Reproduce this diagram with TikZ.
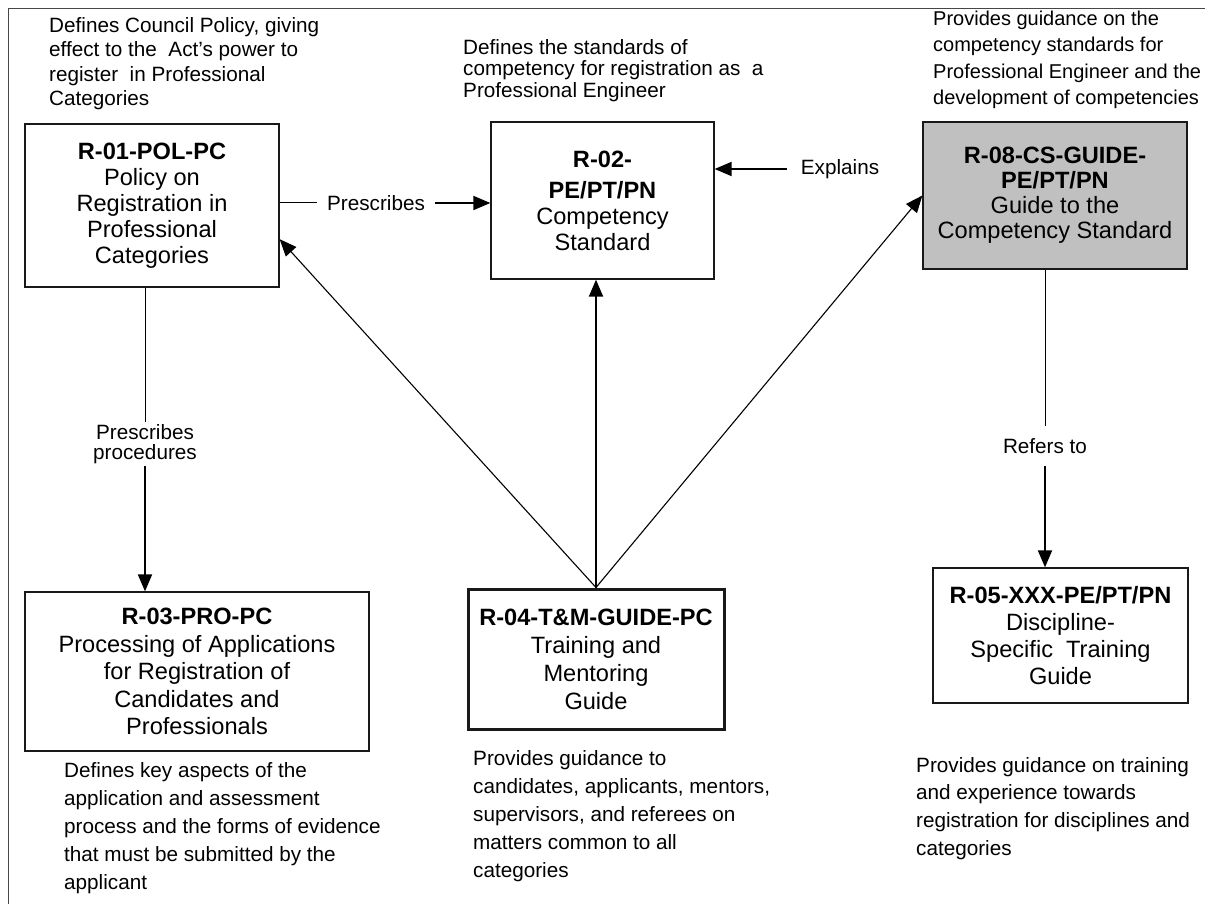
\documentclass[tikz,border=0pt]{standalone}
\usepackage{fontspec}
\setmainfont{Liberation Sans}
\usetikzlibrary{arrows.meta,calc}
\definecolor{boxgray}{RGB}{192,192,192}
\definecolor{framegray}{RGB}{70,70,70}
\begin{document}
\begin{tikzpicture}[x=1pt,y=-1pt,
  docbox/.style={draw=black!90,line width=1.3pt,align=center,inner sep=0pt},
  boxfont/.style={font=\fontsize{23.6}{#1}\selectfont},
  desc/.style={align=left,inner sep=0pt,anchor=north west},
  lbl/.style={fill=white,inner xsep=10pt,inner ysep=3pt,align=center,font=\fontsize{20.7}{20.5}\selectfont},
  arr/.style={-{Triangle[length=17pt,width=14pt]},line width=1.9pt},
  diag/.style={-{Triangle[length=17pt,width=14pt]},line width=1.1pt},
  thinln/.style={line width=1pt},
]
\useasboundingbox (0,0) rectangle (1205,904);
% frame
\draw[framegray,line width=1.5pt] (8.5,904) -- (8.5,8.5) -- (1205,8.5);

% boxes
\node[docbox,boxfont=26,minimum width=254pt,minimum height=163pt] (b1) at (152,205.5)
  {\textbf{R-01-POL-PC}\\Policy on\\Registration in\\Professional\\Categories};
\node[docbox,boxfont=26,minimum width=223pt,minimum height=157pt] (b2) at (602.5,200.5)
  {\textbf{R-02-}\\[5pt]\textbf{PE/PT/PN}\\Competency\\Standard};
\node[docbox,boxfont=25,fill=boxgray,minimum width=264pt,minimum height=147pt] (b3) at (1055,195.5)
  {\textbf{R-08-CS-GUIDE-}\\\textbf{PE/PT/PN}\\Guide to the\\Competency Standard};
\node[docbox,boxfont=27.5,minimum width=344pt,minimum height=159pt] (b4) at (197,671.5)
  {\textbf{R-03-PRO-PC}\\Processing of Applications\\for Registration of\\Candidates and\\Professionals};
\node[docbox,boxfont=28,line width=3pt,minimum width=256pt,minimum height=140pt] (b5) at (596,659)
  {\textbf{R-04-T\&M-GUIDE-PC}\\Training and\\Mentoring\\Guide};
\node[docbox,boxfont=27,minimum width=255pt,minimum height=135pt] (b6) at (1060.5,635.5)
  {\textbf{R-05-XXX-PE/PT/PN}\\Discipline-\\Specific\ \ Training\\Guide};

% descriptions
\node[desc,font=\fontsize{20.7}{24.3}\selectfont] (d1) at (49,17.5)
  {Defines Council Policy, giving\\effect to the\ \ Act’s power to\\register\ \ in Professional\\Categories};
\node[desc,font=\fontsize{20.7}{21.5}\selectfont] (d2) at (463,39)
  {Defines the standards of\\competency for registration as\ \ a\\Professional Engineer};
\node[desc,font=\fontsize{20}{26.3}\selectfont] (d3) at (933,11)
  {Provides guidance on the\\competency standards for\\Professional Engineer and the\\development of competencies};
\node[desc,font=\fontsize{20.7}{28}\selectfont] (d4) at (64,762)
  {Defines key aspects of the\\application and assessment\\process and the forms of evidence\\that must be submitted by the\\applicant};
\node[desc,font=\fontsize{20.7}{28}\selectfont] (d5) at (473,750)
  {Provides guidance to\\candidates, applicants, mentors,\\supervisors, and referees on\\matters common to all\\categories};
\node[desc,font=\fontsize{20.7}{27.7}\selectfont] (d6) at (916,757)
  {Provides guidance on training\\and experience towards\\registration for disciplines and\\categories};

% Prescribes
\node[lbl] (l1) at (376,203) {Prescribes};
\draw[thinln] (b1.east |- l1) -- (l1.west);
\draw[arr] (l1.east) -- (l1 -| b2.west);

% Explains
\node[lbl,inner xsep=0pt] (l2) at (840,169) {Explains};
\draw[arr] ([xshift=-14pt]l2.west) -- (l2 -| b2.east);

% Prescribes procedures
\node[lbl,inner ysep=2pt] (l3) at (145,444) {Prescribes\\procedures};
\draw[thinln] (l3 |- b1.south) -- (l3.north);
\draw[arr] (l3.south) -- (l3 |- b4.north);

% Refers to
\node[lbl,inner ysep=12pt] (l4) at (1045,446) {Refers to};
\draw[thinln] (l4 |- b3.south) -- (l4.north);
\draw[arr] (l4.south) -- (l4 |- b6.north);

% from R-04
\draw[arr,line width=2pt] (b5.north) -- (b5.north |- b2.south);
\draw[diag] (b5.north) -- ($(b1.south east)!0.295!(b1.north east)$);
\draw[diag] (b5.north) -- (b3.west);
\end{tikzpicture}
\end{document}
